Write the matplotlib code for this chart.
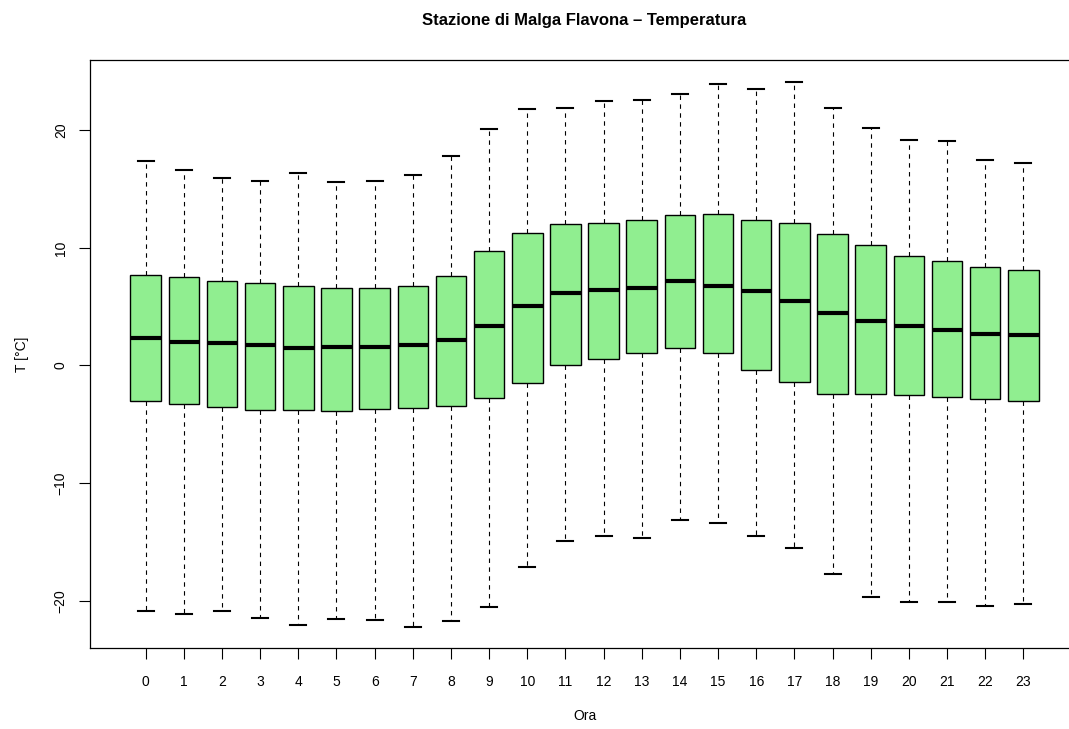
import matplotlib
matplotlib.use("Agg")
import matplotlib.pyplot as plt

plt.rcParams['font.family'] = ['Liberation Sans', 'DejaVu Sans']

# hourly temperature statistics, Malga Flavona
hours = list(range(24))
whislo = [-20.85, -21.11, -20.85, -21.45, -22.07, -21.53, -21.62, -22.21, -21.73, -20.51,
          -17.11, -14.92, -14.50, -14.67, -13.14, -13.42, -14.50, -15.52, -17.73, -19.66,
          -20.11, -20.11, -20.45, -20.28]
q1 = [-3.05, -3.30, -3.50, -3.76, -3.81, -3.87, -3.70, -3.61, -3.42, -2.79,
      -1.52, 0.02, 0.58, 1.09, 1.49, 1.04, -0.35, -1.40, -2.40, -2.45,
      -2.51, -2.71, -2.82, -3.02]
med = [2.31, 2.00, 1.94, 1.74, 1.51, 1.60, 1.55, 1.74, 2.20, 3.39,
       5.09, 6.14, 6.39, 6.59, 7.21, 6.79, 6.36, 5.46, 4.49, 3.78,
       3.39, 2.99, 2.68, 2.59]
q3 = [7.67, 7.50, 7.21, 6.99, 6.79, 6.59, 6.59, 6.79, 7.58, 9.71,
      11.29, 12.00, 12.15, 12.40, 12.80, 12.91, 12.40, 12.15, 11.15, 10.22,
      9.28, 8.89, 8.40, 8.09]
whishi = [17.41, 16.65, 15.94, 15.72, 16.37, 15.60, 15.72, 16.20, 17.81, 20.11,
          21.81, 21.90, 22.49, 22.57, 23.09, 23.94, 23.51, 24.11, 21.90, 20.20,
          19.18, 19.09, 17.47, 17.22]

stats = []
for i in range(len(hours)):
    stats.append({'med': med[i], 'q1': q1[i], 'q3': q3[i],
                  'whislo': whislo[i], 'whishi': whishi[i], 'fliers': []})

W, H = 1069, 729
fig = plt.figure(figsize=(W / 100, H / 100), dpi=100)
ax = fig.add_axes([90 / W, (H - 648.4) / H, (1079 - 90) / W, (648.4 - 60.2) / H])

ax.bxp(stats, positions=hours, widths=0.8, patch_artist=True, showfliers=False,
       boxprops=dict(facecolor='#90EE90', edgecolor='black', linewidth=1),
       medianprops=dict(color='black', linewidth=3, solid_capstyle='butt'),
       whiskerprops=dict(color='black', linewidth=0.8, linestyle=(0, (4, 4))),
       capprops=dict(color='black', linewidth=1.5),
       capwidths=0.42)

ax.set_xlim(-1.46, 24.46)
ax.set_ylim(-24.06, 25.96)
ax.set_xticks(hours)
ax.set_xticklabels([str(h) for h in hours])
ax.set_yticks([-20, -10, 0, 10, 20])
ax.set_yticklabels(['\u221220', '\u221210', '0', '10', '20'], rotation=90, va='center')
ax.tick_params(axis='x', length=8, width=0.8, pad=11, labelsize=10)
ax.tick_params(axis='y', length=8, width=0.8, pad=8, labelsize=10)
for sp in ax.spines.values():
    sp.set_linewidth(0.9)

fig.text(584.5 / W, 1 - 20 / H, 'Stazione di Malga Flavona \u2013 Temperatura',
         ha='center', va='center', fontsize=12, fontweight='bold')
fig.text(584.5 / W, 1 - 716 / H, 'Ora', ha='center', va='center', fontsize=10)
fig.text(22 / W, 1 - 354 / H, 'T [\u00b0C]', ha='center', va='center', fontsize=10, rotation=90)

fig.savefig('out.png', dpi=100)
